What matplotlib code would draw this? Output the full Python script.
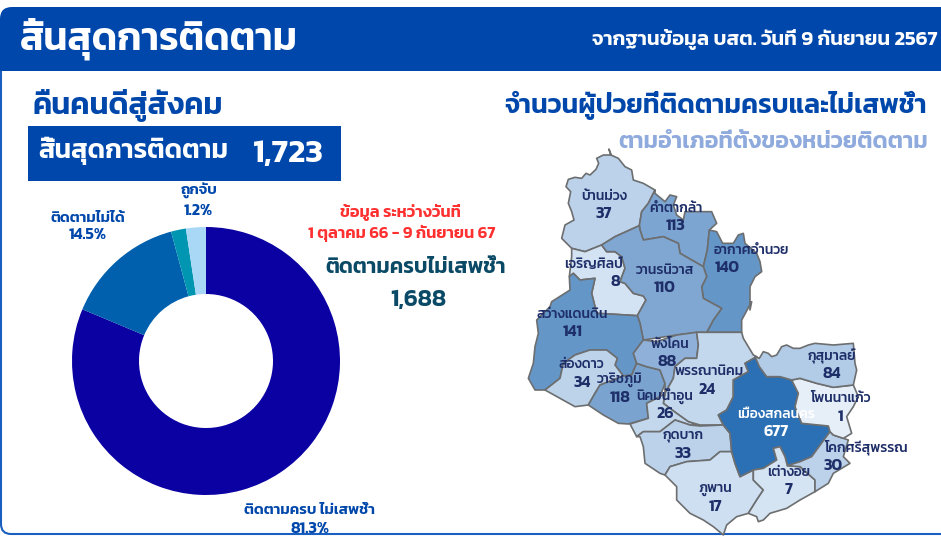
import matplotlib
matplotlib.use('Agg')
import matplotlib.pyplot as plt
from matplotlib.patches import FancyBboxPatch, Polygon, Rectangle

plt.rcParams['font.family'] = ['Kanit', 'Prompt', 'Loma', 'DejaVu Sans']

W, H = 941, 536
BLUE = '#0047AB'
LABEL = '#1E2E68'

# donut
pie_labels = ['ติดตามครบ ไม่เสพช้ำ', 'ติดตามไม่ได้', 'ถูกจับ']
pie_percent = ['81.3%', '14.5%', '1.2%']
pie_values = [81.3, 14.5, 1.8, 2.4]
pie_colors = ['#0B00A2', '#0060AE', '#0095B0', '#A9D8F6']

# map, outlines traced on a grid of 3 units per pixel
district_names = ['บ้านม่วง', 'คำตากล้า', 'อากาศอำนวย', 'เจริญศิลป์', 'วานรนิวาส', 'สว่างแดนดิน',
                  'ส่องดาว', 'วาริชภูมิ', 'พังโคน', 'พรรณานิคม', 'นิคมน้ำอูน', 'กุดบาก',
                  'ภูพาน', 'เมืองสกลนคร', 'เต่างอย', 'โคกศรีสุพรรณ', 'โพนนาแก้ว', 'กุสุมาลย์']
district_values = [37, 113, 140, 8, 110, 141, 34, 118, 88, 24, 26, 33, 17, 677, 7, 30, 1, 84]
district_colors = ['#BCD2EA', '#7DA5D1', '#6496C8', '#D4E3F3', '#80A7D1', '#6496C8',
                   '#BDD3EA', '#7AA3CF', '#8FB1D9', '#C4D8ED', '#C4D8ED', '#BCD2EA',
                   '#CDDFF1', '#2B6FB5', '#D5E4F3', '#BCD2EA', '#E6EFF8', '#B2CBE6']
name_pos = [(312, 350), (527, 385), (755, 510), (282, 553), (495, 570), (217, 705),
            (245, 855), (360, 900), (510, 793), (628, 875), (495, 948), (550, 1068),
            (645, 1227), (828, 1004), (865, 1177), (1097, 1102), (1020, 956), (995, 828)]
value_pos = [(312, 402), (527, 437), (680, 565), (347, 605), (495, 625), (217, 757),
             (245, 908), (360, 955), (500, 847), (620, 930), (495, 1002), (550, 1121),
             (645, 1280), (828, 1057), (865, 1230), (1000, 1157), (1020, 1010), (995, 882)]

ban_muang = [(327, 208), (333, 225), (310, 225), (290, 235), (296, 250), (288, 268), (270, 285),
             (258, 280), (245, 295), (225, 292), (205, 298), (198, 320), (212, 335), (205, 370),
             (215, 395), (222, 420), (195, 435), (185, 475), (215, 505), (255, 515), (305, 495),
             (345, 470), (418, 437), (425, 395), (445, 370), (465, 330), (430, 310), (400, 300),
             (395, 270), (375, 260), (355, 235), (333, 225)]
kham_ta_kla = [(465, 330), (465, 340), (495, 365), (510, 345), (530, 350), (520, 375), (530, 405),
               (550, 420), (555, 395), (600, 395), (635, 395), (650, 430), (628, 450), (622, 510),
               (610, 560), (575, 540), (540, 520), (535, 490), (490, 470), (430, 480), (420, 450),
               (418, 437), (425, 395), (445, 370)]
akat = [(628, 450), (650, 455), (668, 490), (700, 490), (715, 465), (730, 460), (735, 490),
        (770, 520), (780, 545), (785, 575), (765, 590), (750, 620), (750, 690), (755, 665),
        (725, 720), (725, 757), (620, 757), (640, 720), (665, 685), (610, 655), (605, 620),
        (620, 590), (610, 560), (622, 510)]
wanon = [(305, 495), (345, 470), (418, 437), (420, 450), (430, 480), (490, 470), (535, 490),
         (540, 520), (575, 540), (610, 560), (620, 590), (605, 620), (610, 655), (665, 685),
         (640, 720), (620, 757), (590, 757), (530, 765), (430, 780), (420, 730), (412, 707),
         (438, 660), (430, 648), (400, 640), (375, 610), (360, 605), (375, 565), (365, 530),
         (345, 515), (320, 515)]
charoen = [(215, 505), (255, 515), (305, 495), (320, 515), (345, 515), (365, 530), (375, 565),
           (360, 605), (375, 610), (400, 640), (430, 648), (438, 660), (412, 707), (345, 703),
           (290, 700), (275, 640), (285, 595), (240, 600), (220, 580), (208, 590), (215, 530)]
sawang = [(208, 590), (220, 580), (240, 600), (285, 595), (275, 640), (290, 700), (345, 703),
          (412, 707), (420, 730), (430, 780), (400, 820), (410, 850), (395, 885), (370, 888),
          (345, 855), (352, 835), (320, 810), (270, 810), (225, 825), (190, 850), (180, 895),
          (135, 930), (105, 930), (85, 895), (100, 850), (105, 800), (115, 760), (110, 720),
          (150, 680), (155, 665), (210, 630)]
song_dao = [(135, 930), (180, 895), (190, 850), (225, 825), (270, 810), (320, 810), (352, 835),
            (345, 855), (370, 888), (340, 900), (300, 915), (285, 940), (265, 975), (225, 980),
            (180, 955)]
waritchaphum = [(265, 975), (285, 940), (300, 915), (370, 888), (395, 885), (410, 850), (440, 860),
                (480, 870), (495, 910), (480, 950), (440, 970), (445, 1015), (385, 1032),
                (355, 1030), (310, 1005)]
phang_khon = [(400, 820), (430, 780), (470, 785), (530, 765), (590, 757), (595, 795), (590, 835),
              (555, 835), (525, 860), (520, 895), (495, 940), (495, 910), (480, 870), (440, 860),
              (410, 850)]
phanna = [(590, 757), (725, 757), (730, 775), (760, 825), (770, 830), (735, 850), (745, 875),
          (700, 900), (700, 950), (680, 990), (655, 1005), (670, 1035), (600, 1035), (565, 1025),
          (530, 1000), (490, 970), (495, 940), (520, 895), (525, 860), (555, 835), (590, 835),
          (595, 795)]
nikhom = [(440, 970), (480, 950), (495, 940), (490, 970), (530, 1000), (565, 1025), (600, 1038),
          (570, 1035), (525, 1020), (480, 1055), (430, 1055), (410, 1070), (390, 1032), (445, 1015)]
kut_bak = [(410, 1070), (430, 1055), (480, 1055), (525, 1020), (570, 1035), (600, 1038), (670, 1035),
           (690, 1060), (695, 1115), (660, 1115), (630, 1140), (560, 1145), (510, 1160), (495, 1185),
           (480, 1180), (435, 1150), (430, 1100), (420, 1070)]
phu_phan = [(495, 1185), (510, 1160), (560, 1145), (630, 1140), (660, 1115), (695, 1115), (705, 1150),
            (720, 1190), (760, 1170), (760, 1200), (790, 1230), (770, 1260), (745, 1300), (710, 1310),
            (680, 1335), (670, 1365), (640, 1340), (610, 1320), (570, 1300), (530, 1260), (530, 1220)]
muang = [(770, 830), (778, 860), (800, 890), (840, 890), (875, 900), (895, 940), (885, 980),
         (905, 1030), (985, 1038), (990, 1055), (935, 1130), (900, 1145), (862, 1157), (855, 1130),
         (840, 1100), (820, 1105), (830, 1140), (790, 1165), (760, 1170), (720, 1190), (705, 1150),
         (695, 1115), (690, 1060), (670, 1035), (655, 1005), (680, 990), (700, 950), (700, 900),
         (745, 875), (735, 850)]
tao_ngoi = [(745, 1300), (770, 1260), (790, 1230), (760, 1200), (760, 1170), (790, 1165), (830, 1140),
            (820, 1105), (840, 1100), (855, 1130), (862, 1157), (900, 1160), (945, 1200), (945, 1235),
            (900, 1260), (860, 1285), (810, 1300), (790, 1320), (775, 1325), (770, 1310)]
khok = [(862, 1157), (900, 1145), (935, 1130), (990, 1055), (1000, 1065), (1030, 1075), (1045, 1080),
        (1030, 1130), (1050, 1150), (1000, 1180), (985, 1210), (945, 1235), (945, 1200), (900, 1160)]
phon = [(875, 900), (900, 895), (950, 910), (1000, 922), (1060, 915), (1075, 950), (1060, 980),
        (1040, 1010), (1055, 1060), (1030, 1075), (1000, 1065), (990, 1055), (985, 1038), (905, 1030),
        (885, 980), (895, 940)]
kusuman = [(778, 860), (765, 830), (778, 835), (790, 815), (805, 820), (815, 830), (830, 825),
           (845, 800), (860, 795), (880, 805), (900, 805), (925, 795), (945, 790), (1000, 795),
           (1060, 790), (1065, 850), (1070, 870), (1060, 915), (1000, 922), (950, 910),
           (900, 895), (875, 900), (840, 890), (800, 890)]
outlines = [ban_muang, kham_ta_kla, akat, charoen, wanon, sawang, song_dao, waritchaphum,
            phang_khon, phanna, nikhom, kut_bak, phu_phan, muang, tao_ngoi, khok, phon, kusuman]


def add_axes_px(fig, x0, y0, x1, y1):
    return fig.add_axes([x0 / W, 1 - y1 / H, (x1 - x0) / W, (y1 - y0) / H])


fig = plt.figure(figsize=(W / 100, H / 100), dpi=100, facecolor='white')

# everything that is not a chart sits on a pixel axes
bg = fig.add_axes([0, 0, 1, 1])
bg.set_xlim(0, W)
bg.set_ylim(H, 0)
bg.axis('off')

bg.add_patch(FancyBboxPatch((1, 30), 1000, 504, boxstyle='round,pad=0,rounding_size=10',
                            fc='none', ec='#1A5FC0', lw=1.5))
bg.add_patch(FancyBboxPatch((0, 7), 1000, 64, boxstyle='round,pad=0,rounding_size=12',
                            fc=BLUE, ec='none'))
bg.add_patch(Rectangle((0, 50), 1000, 21, fc=BLUE, ec='none'))
bg.add_patch(Rectangle((28, 126), 313, 55, fc=BLUE, ec='none'))

bg.text(20, 39, 'สิ้นสุดการติดตาม', color='white', fontsize=27.9, fontweight='semibold', va='center')
bg.text(938, 40, 'จากฐานข้อมูล บสต. วันที่ 9 กันยายน 2567', color='white', fontsize=14.65,
        fontweight='semibold', va='center', ha='right')
bg.text(32, 105, 'คืนคนดีสู่สังคม', color=BLUE, fontsize=22, fontweight='semibold', va='center')
bg.text(38, 151, 'สิ้นสุดการติดตาม', color='white', fontsize=19.1, fontweight='semibold', va='center')
bg.text(253, 154, '1,723', color='white', fontsize=24, fontweight='semibold', va='center')

bg.text(400, 212, 'ข้อมูล ระหว่างวันที่', color='#FF3030', fontsize=11.8, fontweight='semibold',
        ha='center', va='center')
bg.text(402, 233, '1 ตุลาคม 66 - 9 กันยายน 67', color='#FF3030', fontsize=11.8, fontweight='semibold',
        ha='center', va='center')
bg.text(416, 268, 'ติดตามครบไม่เสพช้ำ', color='#0B4A66', fontsize=15.3, fontweight='semibold',
        ha='center', va='center')
bg.text(418, 300, '1,688', color='#0B4A66', fontsize=17, fontweight='semibold', ha='center', va='center')

bg.text(927, 105, 'จำนวนผู้ป่วยที่ติดตามครบและไม่เสพช้ำ', color=BLUE, fontsize=19.2, fontweight='semibold',
        ha='right', va='center')
bg.text(928, 142, 'ตามอำเภอที่ตั้งของหน่วยติดตาม', color='#8FAADC', fontsize=16.7, fontweight='semibold',
        ha='right', va='center')

bg.text(199, 191, pie_labels[2], color=BLUE, fontsize=10.8, fontweight='semibold', ha='center', va='center')
bg.text(198, 211, pie_percent[2], color=BLUE, fontsize=11.5, fontweight='semibold', ha='center', va='center')
bg.text(88, 218, pie_labels[1], color=BLUE, fontsize=10.8, fontweight='semibold', ha='center', va='center')
bg.text(88, 235, pie_percent[1], color=BLUE, fontsize=11.5, fontweight='semibold', ha='center', va='center')
bg.text(310, 511, pie_labels[0], color=BLUE, fontsize=10.8, fontweight='semibold', ha='center', va='center')
bg.text(310, 529, pie_percent[0], color=BLUE, fontsize=11.5, fontweight='semibold', ha='center', va='center')

# donut
ax = add_axes_px(fig, 72, 227, 340, 495)
ax.pie(pie_values, colors=pie_colors, startangle=90, counterclock=False, radius=1,
       wedgeprops={'width': 0.5, 'linewidth': 0})
ax.set_xlim(-1, 1)
ax.set_ylim(-1, 1)

# map
mp = add_axes_px(fig, 500, 80, 941, 536)
mp.set_xlim(0, 1323)
mp.set_ylim(1368, 0)
mp.axis('off')
for outline, color in zip(outlines, district_colors):
    mp.add_patch(Polygon(outline, closed=True, fc=color, ec='#6C6E70', lw=1.2, joinstyle='round'))
for i, name in enumerate(district_names):
    c = 'white' if name == 'เมืองสกลนคร' else LABEL
    mp.text(name_pos[i][0], name_pos[i][1], name, color=c, fontsize=10, fontweight='medium',
            ha='center', va='center')
    mp.text(value_pos[i][0], value_pos[i][1], str(district_values[i]), color=c, fontsize=11.5,
            fontweight='semibold', ha='center', va='center')

fig.savefig('out.png', dpi=100)
